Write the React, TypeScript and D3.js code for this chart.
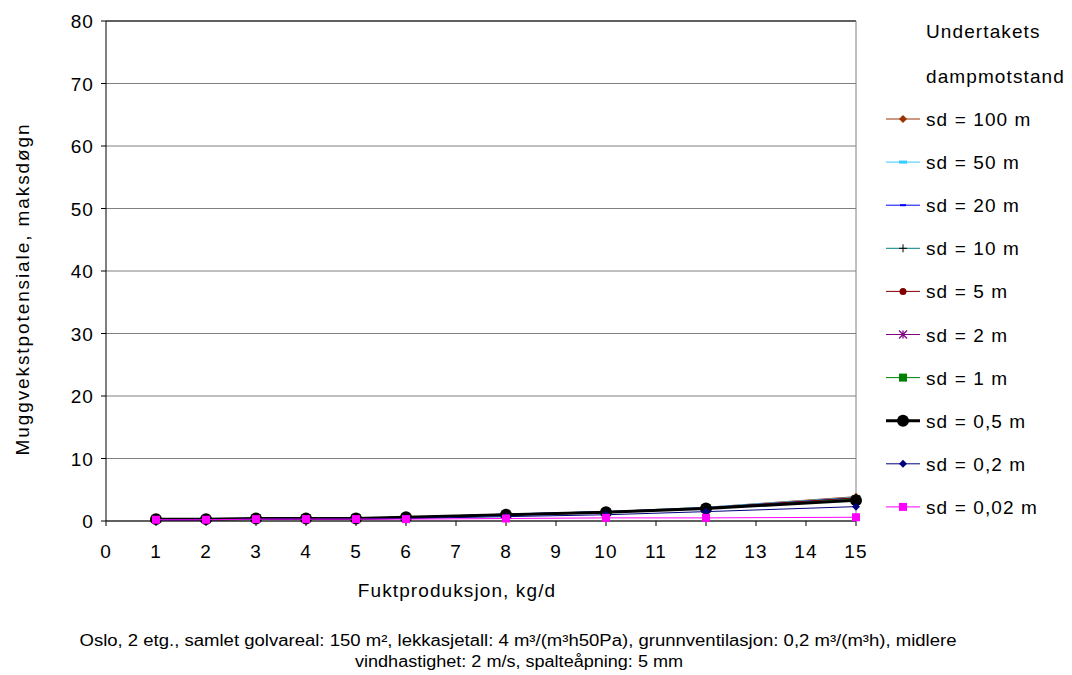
import React from "react";
import * as d3 from "d3";

const xValues = [1, 2, 3, 4, 5, 6, 8, 10, 12, 15];
const sd100 = [0.3, 0.3, 0.4, 0.4, 0.5, 0.6, 1.1, 1.5, 2.2, 3.9];
const sd50 = [0.3, 0.3, 0.4, 0.4, 0.5, 0.6, 1.1, 1.5, 2.2, 3.8];
const sd20 = [0.3, 0.3, 0.4, 0.4, 0.5, 0.6, 1.1, 1.5, 2.1, 3.7];
const sd10 = [0.3, 0.3, 0.4, 0.4, 0.5, 0.6, 1.0, 1.4, 2.1, 3.6];
const sd5 = [0.3, 0.3, 0.4, 0.4, 0.5, 0.6, 1.0, 1.4, 2.1, 3.7];
const sd2 = [0.3, 0.3, 0.4, 0.4, 0.5, 0.6, 1.0, 1.4, 2.0, 3.5];
const sd1 = [0.3, 0.3, 0.4, 0.4, 0.5, 0.6, 1.0, 1.4, 2.0, 3.5];
const sd05 = [0.3, 0.3, 0.4, 0.4, 0.4, 0.6, 1.0, 1.4, 2.0, 3.3];
const sd02 = [0.2, 0.2, 0.3, 0.3, 0.3, 0.4, 0.7, 1.0, 1.5, 2.3];
const sd002 = [0.2, 0.2, 0.3, 0.3, 0.3, 0.3, 0.4, 0.5, 0.5, 0.6];

const seriesNames = [
  "sd = 100 m",
  "sd = 50 m",
  "sd = 20 m",
  "sd = 10 m",
  "sd = 5 m",
  "sd = 2 m",
  "sd = 1 m",
  "sd = 0,5 m",
  "sd = 0,2 m",
  "sd = 0,02 m",
];
const seriesValues = [sd100, sd50, sd20, sd10, sd5, sd2, sd1, sd05, sd02, sd002];
const seriesColors = [
  "#993300",
  "#33CCFF",
  "#0000FF",
  "#008080",
  "#800000",
  "#800080",
  "#008000",
  "#000000",
  "#000080",
  "#FF00FF",
];
const seriesMarkers = [
  "diamond",
  "dash",
  "dashSmall",
  "plus",
  "circle",
  "star",
  "square",
  "bigCircle",
  "diamond",
  "square",
];

const xTicks = d3.range(0, 16);
const yTicks = d3.range(0, 81, 10);

const FONT = "'Liberation Sans', Arial, sans-serif";
const FS = 19;
const LS = 1.1;

function Marker({ type, color, x, y }: { type: string; color: string; x: number; y: number }) {
  switch (type) {
    case "diamond":
      return <path d={`M${x},${y - 4}L${x + 4},${y}L${x},${y + 4}L${x - 4},${y}Z`} fill={color} />;
    case "dash":
      return <rect x={x - 4} y={y - 1.5} width={8} height={3} fill={color} />;
    case "dashSmall":
      return <rect x={x - 3} y={y - 1} width={6} height={2} fill={color} />;
    case "plus":
      return (
        <g stroke="#000" strokeWidth={1}>
          <line x1={x - 4} x2={x + 4} y1={y} y2={y} />
          <line x1={x} x2={x} y1={y - 4} y2={y + 4} />
        </g>
      );
    case "circle":
      return <circle cx={x} cy={y} r={3.5} fill={color} />;
    case "star":
      return (
        <g stroke={color} strokeWidth={1.3}>
          <line x1={x - 4} x2={x + 4} y1={y - 4} y2={y + 4} />
          <line x1={x - 4} x2={x + 4} y1={y + 4} y2={y - 4} />
          <line x1={x} x2={x} y1={y - 4} y2={y + 4} />
        </g>
      );
    case "square":
      return <rect x={x - 4} y={y - 4} width={8} height={8} fill={color} />;
    case "bigCircle":
      return <circle cx={x} cy={y} r={6} fill={color} />;
    default:
      return null;
  }
}

export default function App() {
  const W = 1072;
  const H = 675;
  const left = 106;
  const right = 856;
  const top = 21;
  const bottom = 521;

  const x = d3.scaleLinear().domain([0, 15]).range([left, right]);
  const y = d3.scaleLinear().domain([0, 80]).range([bottom, top]);

  const line = d3
    .line<number>()
    .x((_, i) => x(xValues[i]))
    .y((d) => y(d));

  const legendX1 = 886;
  const legendX2 = 920;
  const legendTextX = 926;
  const legendY0 = 119;
  const legendStep = 43.1;

  return (
    <svg width={W} height={H} style={{ position: "absolute", left: 0, top: 0 }} fontFamily={FONT}>
      <rect width={W} height={H} fill="#fff" />
      {yTicks.map((t) => (
        <line key={"g" + t} x1={left} x2={right} y1={y(t)} y2={y(t)} stroke="#808080" strokeWidth={1} />
      ))}
      <line x1={left} x2={right} y1={top} y2={top} stroke="#000" />
      <line x1={right} x2={right} y1={top} y2={bottom} stroke="#808080" />
      <line x1={left} x2={left} y1={top} y2={bottom} stroke="#000" />
      <line x1={left} x2={right} y1={bottom} y2={bottom} stroke="#000" />
      {yTicks.map((t) => (
        <g key={"yt" + t}>
          <line x1={left - 5} x2={left} y1={y(t)} y2={y(t)} stroke="#000" />
          <text x={left - 12} y={y(t) + 7} textAnchor="end" fontSize={FS} letterSpacing={LS} fill="#000">
            {t}
          </text>
        </g>
      ))}
      {xTicks.map((t) => (
        <g key={"xt" + t}>
          <line x1={x(t)} x2={x(t)} y1={bottom} y2={bottom + 5} stroke="#000" />
          <text x={x(t)} y={bottom + 37} textAnchor="middle" fontSize={FS} letterSpacing={LS} fill="#000">
            {t}
          </text>
        </g>
      ))}
      {seriesValues.map((vals, si) => (
        <g key={"s" + si}>
          <path
            d={line(vals) || ""}
            fill="none"
            stroke={seriesColors[si]}
            strokeWidth={seriesMarkers[si] === "bigCircle" ? 3 : 1}
          />
          {vals.map((v, i) => (
            <Marker key={i} type={seriesMarkers[si]} color={seriesColors[si]} x={x(xValues[i])} y={y(v)} />
          ))}
        </g>
      ))}
      <text x={457} y={597} textAnchor="middle" fontSize={FS} letterSpacing={LS} fill="#000">
        Fuktproduksjon, kg/d
      </text>
      <text
        transform={`translate(29, 289) rotate(-90)`}
        textAnchor="middle"
        fontSize={FS}
        letterSpacing={1.9}
        fill="#000"
      >
        Muggvekstpotensiale, maksdøgn
      </text>
      <text x={legendTextX} y={38} fontSize={FS} letterSpacing={LS} fill="#000">
        Undertakets
      </text>
      <text x={legendTextX} y={83} fontSize={FS} letterSpacing={LS} fill="#000">
        dampmotstand
      </text>
      {seriesNames.map((name, i) => {
        const ly = legendY0 + i * legendStep;
        return (
          <g key={"l" + i}>
            <line
              x1={legendX1}
              x2={legendX2}
              y1={ly}
              y2={ly}
              stroke={seriesColors[i]}
              strokeWidth={seriesMarkers[i] === "bigCircle" ? 3 : 1}
            />
            <Marker type={seriesMarkers[i]} color={seriesColors[i]} x={(legendX1 + legendX2) / 2} y={ly} />
            <text x={legendTextX} y={ly + 7} fontSize={FS} letterSpacing={LS} fill="#000">
              {name}
            </text>
          </g>
        );
      })}
      <text
        x={518}
        y={646}
        textAnchor="middle"
        fontSize={16}
        fill="#000"
        textLength={877}
        lengthAdjust="spacingAndGlyphs"
      >
        Oslo, 2 etg., samlet golvareal: 150 m², lekkasjetall: 4 m³/(m³h50Pa), grunnventilasjon: 0,2 m³/(m³h), midlere
      </text>
      <text
        x={519}
        y={667}
        textAnchor="middle"
        fontSize={16}
        fill="#000"
        textLength={328}
        lengthAdjust="spacingAndGlyphs"
      >
        vindhastighet: 2 m/s, spalteåpning: 5 mm
      </text>
    </svg>
  );
}
